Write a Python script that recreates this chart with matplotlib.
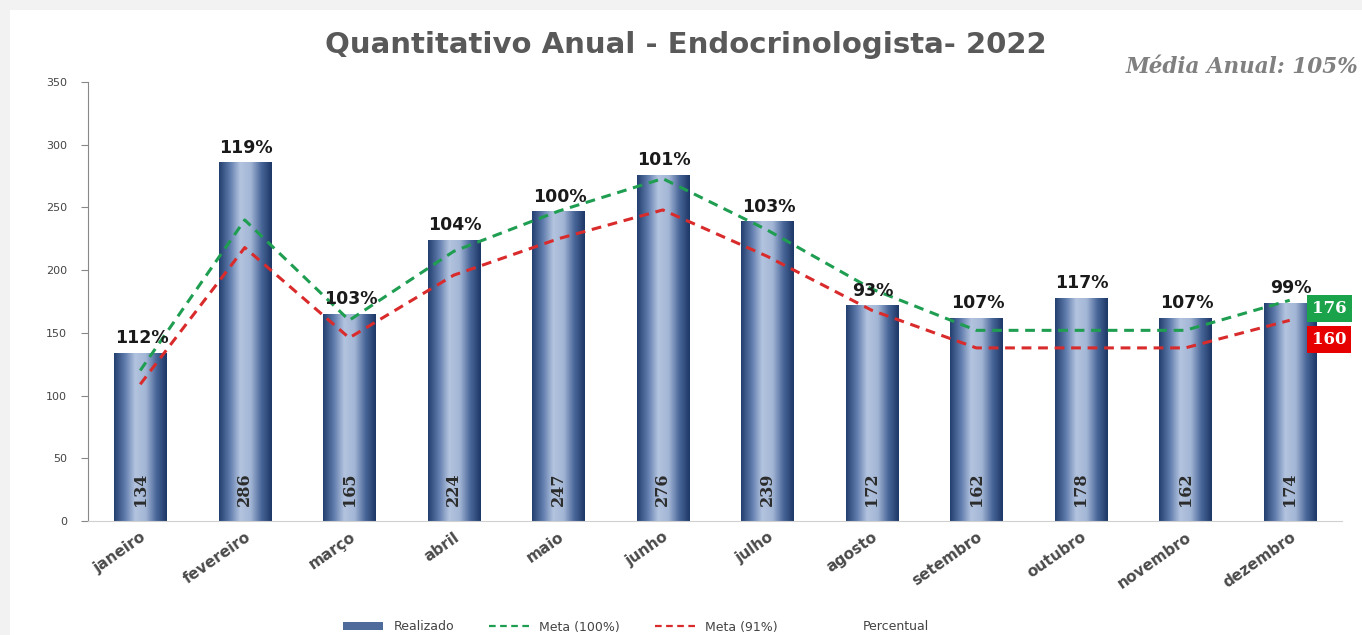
import matplotlib
matplotlib.use("Agg")
import matplotlib.pyplot as plt
import numpy as np
from matplotlib.patches import Rectangle, Patch
from matplotlib.lines import Line2D
from matplotlib.colors import LinearSegmentedColormap

months = ["janeiro", "fevereiro", "março", "abril", "maio", "junho", "julho",
          "agosto", "setembro", "outubro", "novembro", "dezembro"]
realizado = [134, 286, 165, 224, 247, 276, 239, 172, 162, 178, 162, 174]
meta100 = [120, 240, 160, 215, 247, 273, 232, 185, 152, 152, 152, 176]
meta91 = [109, 218, 146, 196, 225, 248, 211, 168, 138, 138, 138, 160]
percentual = ["112%", "119%", "103%", "104%", "100%", "101%", "103%",
              "93%", "107%", "117%", "107%", "99%"]
title = "Quantitativo Anual - Endocrinologista- 2022"
media = "Média Anual: 105%"
yticks = [0, 50, 100, 150, 200, 250, 300, 350]

W, H = 1362, 635
fig = plt.figure(figsize=(W / 100, H / 100), dpi=100)
fig.patch.set_facecolor("#f2f2f2")
fig.patches.append(Rectangle((10 / W, 0), 1, (H - 10) / H, transform=fig.transFigure,
                             facecolor="white", edgecolor="none", zorder=-5))

ax = fig.add_axes([88 / W, 114 / H, (1342 - 88) / W, (553 - 114) / H])
ax.set_facecolor("none")
x = np.arange(len(months))
bw = 0.5

cmap = LinearSegmentedColormap.from_list(
    "bar", ["#223f70", "#5d7aab", "#b3c4df", "#a3b6d5", "#4a679a", "#1c3765"])
grad = np.linspace(0, 1, 256).reshape(1, -1)

bars = ax.bar(x, realizado, width=bw, color="none", edgecolor="none", zorder=2)
for b in bars:
    x0, y0 = b.get_x(), b.get_y()
    w, h = b.get_width(), b.get_height()
    im = ax.imshow(grad, cmap=cmap, aspect="auto", extent=(x0, x0 + w, y0, y0 + h),
                   zorder=2, interpolation="bicubic")
    im.set_clip_path(b)

ax.set_xlim(-0.5, len(months) - 0.5)
ax.set_ylim(0, 350)

green = "#1f9e52"
red = "#d92b2b"
ax.plot(x, meta100, color=green, lw=2.2, ls=(0, (3.2, 2.2)), zorder=3)
ax.plot(x, meta91, color=red, lw=2.2, ls=(0, (3.2, 2.2)), zorder=3)

for xi, v, p in zip(x, realizado, percentual):
    ax.text(xi, 12, str(v), rotation=90, ha="center", va="bottom",
            fontsize=11.5, color="#2b2b2b", fontweight="bold",
            family="DejaVu Serif", zorder=4)
    ax.annotate(p, (xi, v), xytext=(1, 4), textcoords="offset points",
                ha="center", va="bottom", fontsize=12.5, fontweight="bold",
                color="#1a1a1a", zorder=5)

ax.annotate(str(meta100[-1]), (x[-1], meta100[-1]), xytext=(16, -6),
            textcoords="offset points", ha="left", va="center",
            fontsize=12, fontweight="bold", color="white", family="DejaVu Serif",
            bbox=dict(boxstyle="square,pad=0.3", fc="#1aa34a", ec="none"), zorder=6)
ax.annotate(str(meta91[-1]), (x[-1], meta91[-1]), xytext=(16, -14),
            textcoords="offset points", ha="left", va="center",
            fontsize=12, fontweight="bold", color="white", family="DejaVu Serif",
            bbox=dict(boxstyle="square,pad=0.3", fc="#e60000", ec="none"), zorder=6)

ax.set_yticks(yticks)
ax.set_yticklabels([str(t) for t in yticks], fontsize=8, color="#444444")
ax.set_xticks(x)
ax.set_xticklabels(months, rotation=35, ha="right", rotation_mode="anchor",
                   fontsize=11, color="#4a4a4a", fontweight="bold")
ax.tick_params(axis="x", length=0, pad=6)
ax.tick_params(axis="y", length=5, color="#888888", direction="out", pad=10)
for s in ["top", "right"]:
    ax.spines[s].set_visible(False)
ax.spines["left"].set_color("#888888")
ax.spines["bottom"].set_color("#d0d0d0")

fig.text(686 / W, 1 - 45 / H, title, ha="center", va="center", fontsize=21,
         fontweight="bold", color="#595959")
fig.text(1358 / W, 1 - 67 / H, media, ha="right", va="center", fontsize=15.5,
         fontweight="bold", style="italic", color="#808080", family="DejaVu Serif")

handles = [Patch(facecolor="#4f6b9c", edgecolor="none"),
           Line2D([], [], color=green, lw=1.6, ls=(0, (3, 2))),
           Line2D([], [], color=red, lw=1.6, ls=(0, (3, 2))),
           Line2D([], [], color="none")]
labels = ["Realizado", "Meta (100%)", "Meta (91%)", "Percentual"]
fig.legend(handles, labels, loc="center", bbox_to_anchor=(636 / W, 1 - 627 / H),
           ncol=4, frameon=False, fontsize=9, labelcolor="#444444",
           handlelength=3.2, handleheight=0.6, columnspacing=2.8)

fig.savefig("out.png", dpi=100, facecolor=fig.get_facecolor())
